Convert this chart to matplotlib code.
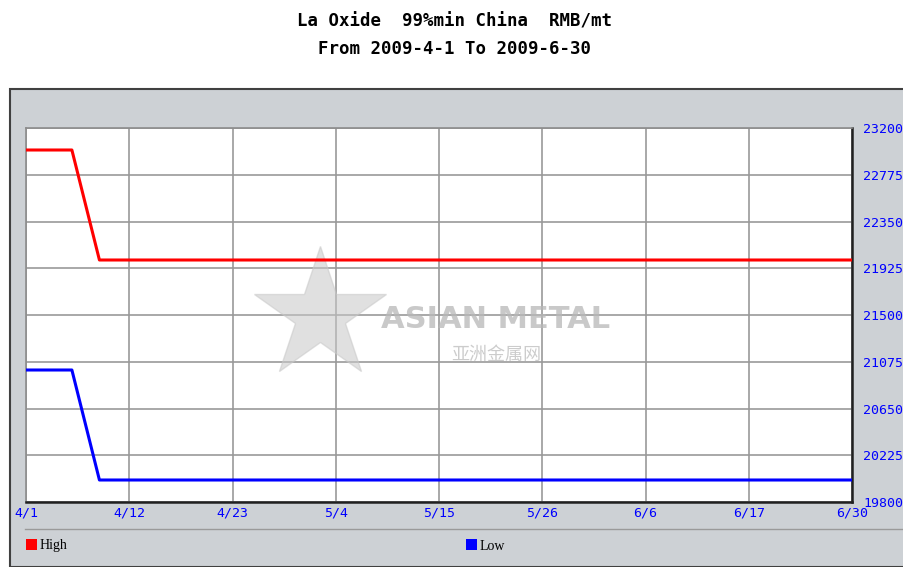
import numpy as np
import pandas as pd
import matplotlib
matplotlib.use("Agg")
import matplotlib.pyplot as plt
from matplotlib.patches import Rectangle
from matplotlib.lines import Line2D

# datos
dates = ["2009-04-01", "2009-04-06", "2009-04-09", "2009-06-30"]
high = [23000, 23000, 22000, 22000]
low = [21000, 21000, 20000, 20000]
x_labels = ["4/1", "4/12", "4/23", "5/4", "5/15", "5/26", "6/6", "6/17", "6/30"]
y_ticks = [19800, 20225, 20650, 21075, 21500, 21925, 22350, 22775, 23200]

start = pd.Timestamp("2009-04-01")
end = pd.Timestamp("2009-06-30")
days = [(pd.Timestamp(d) - start).days for d in dates]
total = (end - start).days

W, H = 904, 567
fig = plt.figure(figsize=(W / 100, H / 100), dpi=100)
fig.patch.set_facecolor("white")

# marco gris
frame = Rectangle((10 / W, 0), 1, (H - 89) / H, transform=fig.transFigure,
                  facecolor="#cdd1d5", edgecolor="#404040", linewidth=1.5, zorder=-5)
fig.patches.append(frame)

mono = "DejaVu Sans Mono"
fig.text(455 / W, 1 - 22 / H, "La Oxide  99%min China  RMB/mt", ha="center", va="center",
         fontsize=12.5, fontweight="bold", family=mono)
fig.text(455 / W, 1 - 49 / H, "From 2009-4-1 To 2009-6-30", ha="center", va="center",
         fontsize=12.5, fontweight="bold", family=mono)

ax = fig.add_axes([26 / W, (H - 502) / H, 826 / W, 374 / H])
ax.set_facecolor("white")
ax.plot(days, high, color="#ff0000", linewidth=2.2, zorder=3)
ax.plot(days, low, color="#0000ff", linewidth=2.2, zorder=3)

ax.set_xlim(0, total)
ax.set_ylim(y_ticks[0], y_ticks[-1])
ax.set_xticks(np.linspace(0, total, len(x_labels)))
ax.set_xticklabels(x_labels)
ax.set_yticks(y_ticks)
ax.yaxis.tick_right()
ax.tick_params(axis="both", length=0, colors="#0000ff", labelsize=9.5)
ax.tick_params(axis="x", pad=3)
ax.tick_params(axis="y", pad=8)
for lbl in ax.get_xticklabels() + ax.get_yticklabels():
    lbl.set_family(mono)
ax.grid(True, color="#999999", linewidth=1.2)
ax.set_axisbelow(True)
for side in ["top", "left"]:
    ax.spines[side].set_color("#8c8c8c")
    ax.spines[side].set_linewidth(1.2)
for side in ["bottom", "right"]:
    ax.spines[side].set_color("#202020")
    ax.spines[side].set_linewidth(1.8)

# marca de agua
ax.plot([0.356], [0.5], marker="*", markersize=100, color="#c8c8c8", alpha=0.55,
        transform=ax.transAxes, zorder=1)
ax.text(0.569, 0.487, "ASIAN METAL", transform=ax.transAxes, fontsize=22,
        fontweight="bold", color="#b8b8b8", alpha=0.75, va="center", ha="center", zorder=1)
ax.text(0.569, 0.393, "亚洲金属网", transform=ax.transAxes, fontsize=13,
        family=["Noto Sans CJK SC", "DejaVu Sans"], color="#bcbcbc", alpha=0.75,
        va="center", ha="center", zorder=1)

# separador y leyenda
fig.lines.append(Line2D([25 / W, 1], [1 - 529 / H, 1 - 529 / H], transform=fig.transFigure,
                        color="#9a9a9a", linewidth=1))
fig.patches.append(Rectangle((26 / W, 1 - 550 / H), 11 / W, 11 / H, transform=fig.transFigure,
                             facecolor="#ff0000", edgecolor="none"))
fig.text(40 / W, 1 - 546 / H, "High", fontsize=10, family="Liberation Serif", va="center")
fig.patches.append(Rectangle((466 / W, 1 - 550 / H), 11 / W, 11 / H, transform=fig.transFigure,
                             facecolor="#0000ff", edgecolor="none"))
fig.text(480 / W, 1 - 546 / H, "Low", fontsize=10, family="Liberation Serif", va="center")

fig.savefig("out.png", dpi=100)
